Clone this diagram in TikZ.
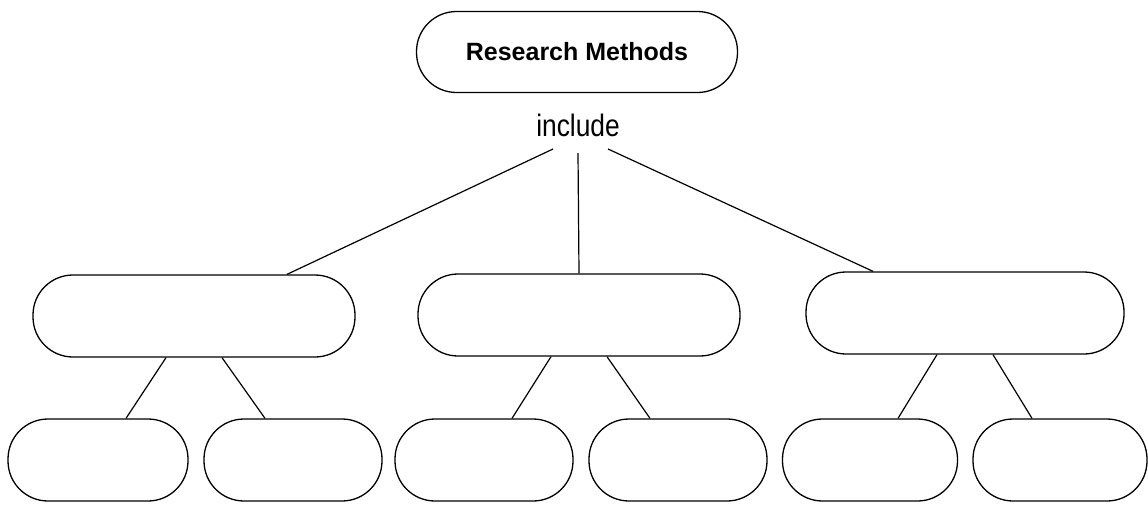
\documentclass[tikz,border=0pt]{standalone}
\usepackage{fontspec}
\setmainfont{Liberation Sans}
\newfontfamily\narrowfont[FakeStretch=0.85]{Liberation Sans}
\usetikzlibrary{calc}
\newcommand{\branch}[3]{
	\draw[link] ($(#1.south)+(-28,0)$) -- ($(#2.north)+(28,0)$);
	\draw[link] ($(#1.south)+(28,0)$) -- ($(#3.north)+(-28,0)$);
}

\begin{document}
\begin{tikzpicture}[x=1pt,y=-1pt,
	oval/.style={draw, line width=1.3pt, rounded corners=40pt, minimum height=82pt, inner sep=0pt},
	leaf/.style={oval, minimum width=178pt},
	link/.style={line width=1.2pt}]
	\useasboundingbox (0,0) rectangle (1148,504);

	\node[oval, minimum width=321pt, minimum height=81pt] (RM) at (577,52) {\fontsize{25}{30}\selectfont\bfseries Research Methods};
	\node[inner sep=0pt, anchor=base] (inc) at (578,136) {\narrowfont\fontsize{31}{36}\selectfont include};

	\node[oval, minimum width=322pt] (M1) at (194,316) {};
	\node[oval, minimum width=322pt] (M2) at (579,315) {};
	\node[oval, minimum width=318pt] (M3) at (965,313) {};

	\node[leaf, minimum width=180pt] (B1) at (98,460) {};
	\node[leaf] (B2) at (293,460) {};
	\node[leaf] (B3) at (484,460) {};
	\node[leaf] (B4) at (678,460) {};
	\node[leaf, minimum width=175pt] (B5) at (870,460) {};
	\node[leaf, minimum width=174pt] (B6) at (1060,460) {};

	\draw[link] ($(inc.base)+(-25,13)$) -- ($(M1.north)+(93,0)$);
	\draw[link] ($(inc.base)+(0,17)$) -- (M2.north);
	\draw[link] ($(inc.base)+(30,13)$) -- ($(M3.north)+(-92,0)$);

	\branch{M1}{B1}{B2}
	\branch{M2}{B3}{B4}
	\branch{M3}{B5}{B6}
\end{tikzpicture}
\end{document}
